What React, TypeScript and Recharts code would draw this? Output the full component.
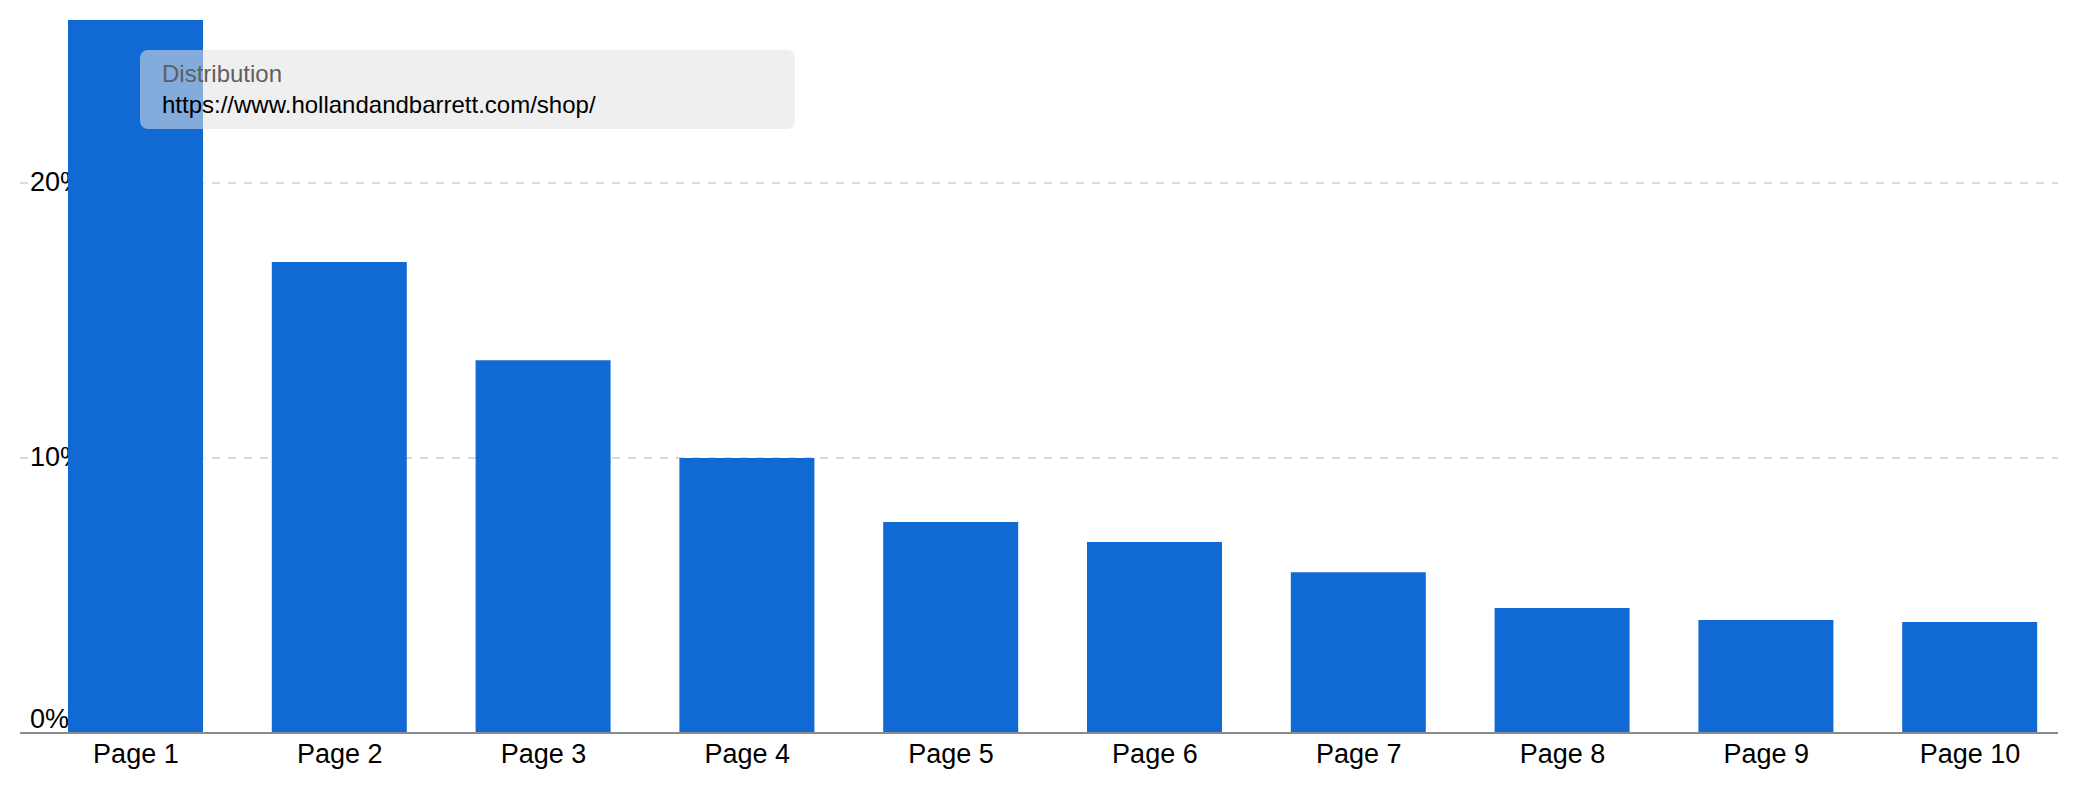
import { BarChart, Bar, XAxis, YAxis, CartesianGrid } from 'recharts'

const pages = ['Page 1', 'Page 2', 'Page 3', 'Page 4', 'Page 5', 'Page 6', 'Page 7', 'Page 8', 'Page 9', 'Page 10']
const shares = [26.1, 17.13, 13.56, 10.0, 7.67, 6.95, 5.85, 4.55, 4.11, 4.04]
const yTicks = [0, 10, 20]
const seriesName = 'Distribution'
const seriesUrl = 'https://www.hollandandbarrett.com/shop/'

const chartData = pages.map((page, i) => ({ page, share: shares[i] }))

const FONT = '"Liberation Sans", Arial, sans-serif'
const TICK_SIZE = 27

// gridline + its label, drawn in the grid layer so the bars cover the labels
const GridLine = (props: any) => {
  const { x1, x2, y1, index } = props
  const value = yTicks[index]
  const label = `${value}%`
  const textY = value === 0 ? y1 - 5 : y1 + 8
  return (
    <g key={`grid-${index}`}>
      <line
        x1={x1}
        x2={x2}
        y1={y1}
        y2={y1}
        stroke="#dadada"
        strokeWidth={2}
        strokeDasharray="8 8"
      />
      <rect x={x1 + 9} y={y1 - 12} width={label.length * 18} height={24} fill="#fff" />
      <text
        x={x1 + 10}
        y={textY}
        textAnchor="start"
        fill="#000"
        fontSize={TICK_SIZE}
        fontFamily={FONT}
      >
        {label}
      </text>
    </g>
  )
}

export default function App() {
  return (
    <div style={{ position: 'absolute', left: 0, top: 0, width: 2078, height: 800, background: '#fff' }}>
      <BarChart
        width={2078}
        height={800}
        data={chartData}
        margin={{ top: 20, right: 20, left: 20, bottom: 27 }}
      >
        <CartesianGrid
          vertical={false}
          syncWithTicks
          horizontalValues={yTicks}
          horizontal={GridLine}
        />
        <YAxis
          mirror
          width={60}
          domain={[0, 25.93]}
          allowDataOverflow
          ticks={yTicks}
          axisLine={false}
          tickLine={false}
          tick={() => <g />}
        />
        <Bar
          dataKey="share"
          fill="#116ad4"
          barSize={135}
          isAnimationActive={false}
        />
        <XAxis
          dataKey="page"
          height={40}
          padding={{ left: 14, right: -14 }}
          axisLine={{ stroke: '#8a8a8a', strokeWidth: 2 }}
          tickLine={false}
          tickSize={0}
          tickMargin={11}
          interval={0}
          tick={{ fill: '#000', fontSize: TICK_SIZE, fontFamily: FONT }}
        />
      </BarChart>
      <div
        style={{
          position: 'absolute',
          left: 140,
          top: 50,
          width: 655,
          height: 79,
          boxSizing: 'border-box',
          padding: '8px 22px',
          borderRadius: 8,
          background: 'rgba(225,225,225,0.55)',
          fontFamily: FONT,
          fontSize: 24,
          lineHeight: '31px',
          pointerEvents: 'none',
        }}
      >
        <div style={{ color: '#5f5f5f' }}>{seriesName}</div>
        <div style={{ color: '#000' }}>{seriesUrl}</div>
      </div>
    </div>
  )
}
